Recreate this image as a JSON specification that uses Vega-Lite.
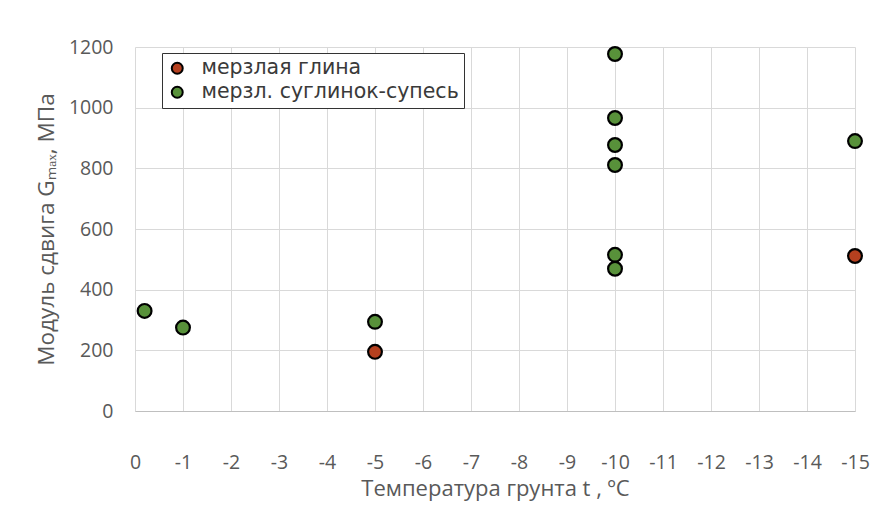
{
  "$schema": "https://vega.github.io/schema/vega-lite/v6.json",
  "width": 720,
  "height": 364,
  "autosize": {"type": "none"},
  "padding": {"left": 135, "top": 47, "right": 38, "bottom": 100},
  "background": "white",
  "config": {
    "font": "Open Sans",
    "view": {"stroke": null},
    "axis": {
      "labelColor": "#595959",
      "titleColor": "#595959",
      "labelFont": "Open Sans",
      "titleFont": "Open Sans",
      "labelFontSize": 19.5,
      "titleFontSize": 22,
      "titleFontWeight": "normal",
      "gridColor": "#d9d9d9",
      "gridWidth": 1,
      "ticks": false
    }
  },
  "data": {
    "values": [
      {"t": -0.2, "G": 330, "type": "мерзл. суглинок-супесь"},
      {"t": -1, "G": 275, "type": "мерзл. суглинок-супесь"},
      {"t": -5, "G": 294, "type": "мерзл. суглинок-супесь"},
      {"t": -5, "G": 195, "type": "мерзлая глина"},
      {"t": -10, "G": 1177, "type": "мерзл. суглинок-супесь"},
      {"t": -10, "G": 966, "type": "мерзл. суглинок-супесь"},
      {"t": -10, "G": 877, "type": "мерзл. суглинок-супесь"},
      {"t": -10, "G": 811, "type": "мерзл. суглинок-супесь"},
      {"t": -10, "G": 515, "type": "мерзл. суглинок-супесь"},
      {"t": -10, "G": 469, "type": "мерзл. суглинок-супесь"},
      {"t": -15, "G": 890, "type": "мерзл. суглинок-супесь"},
      {"t": -15, "G": 511, "type": "мерзлая глина"}
    ]
  },
  "mark": {"type": "point", "filled": true, "size": 190, "stroke": "black", "strokeWidth": 2.2, "opacity": 1},
  "encoding": {
    "x": {
      "field": "t",
      "type": "quantitative",
      "scale": {"domain": [-15, 0], "reverse": true, "nice": false, "zero": false},
      "axis": {
        "title": "Температура грунта  t , ºC",
        "values": [0, -1, -2, -3, -4, -5, -6, -7, -8, -9, -10, -11, -12, -13, -14, -15],
        "labelExpr": "'' + datum.value",
        "labelPadding": 42,
        "titlePadding": 7,
        "domainColor": "#bfbfbf",
        "labelFlush": false
      }
    },
    "y": {
      "field": "G",
      "type": "quantitative",
      "scale": {"domain": [0, 1200], "nice": false},
      "axis": {
        "title": "Модуль сдвига Gₘₐₓ, МПа",
        "values": [0, 200, 400, 600, 800, 1000, 1200],
        "format": "d",
        "labelPadding": 22,
        "titlePadding": 10,
        "titleFontSize": 22.5,
        "domain": false,
        "labelFlush": false
      }
    },
    "fill": {
      "field": "type",
      "type": "nominal",
      "scale": {"domain": ["мерзлая глина", "мерзл. суглинок-супесь"], "range": ["#b5401f", "#58913a"]},
      "legend": {
        "title": null,
        "orient": "none",
        "legendX": 27,
        "legendY": 6,
        "strokeColor": "#333333",
        "fillColor": "white",
        "padding": 5,
        "labelFontSize": 20.5,
        "labelLimit": 500,
        "labelColor": "#3a3a3a",
        "labelFont": "DejaVu Sans",
        "symbolSize": 120,
        "symbolStrokeColor": "black",
        "symbolStrokeWidth": 2,
        "symbolType": "circle",
        "rowPadding": 3,
        "labelOffset": 14
      }
    }
  }
}
